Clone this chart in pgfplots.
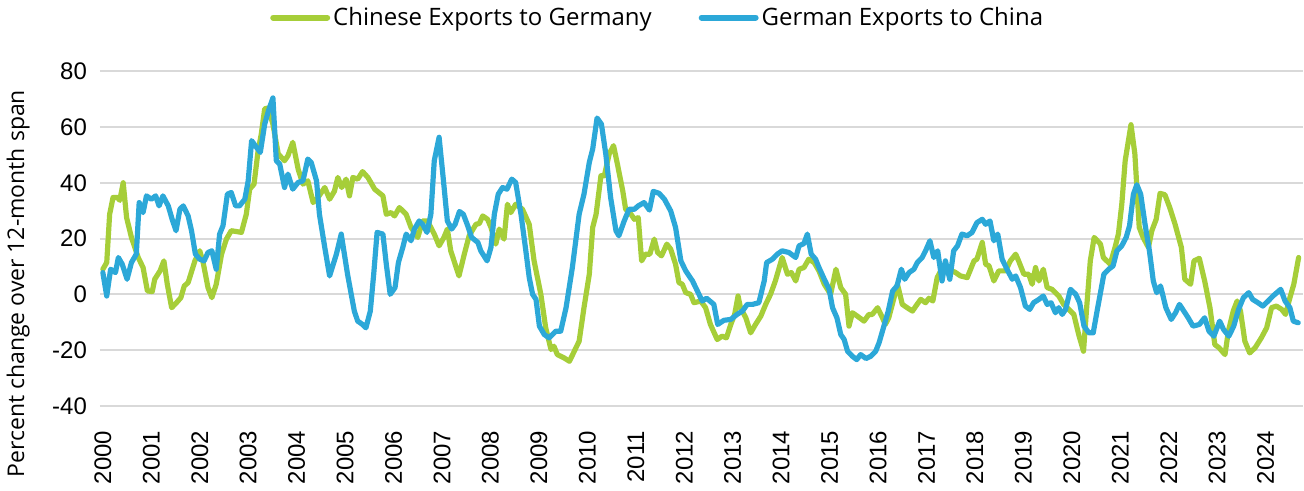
\documentclass[border=0pt]{standalone}
\usepackage{fontspec}
\setmainfont{Open Sans}
\newfontfamily\tickfont{Liberation Sans}
\usepackage{pgfplots}
\pgfplotsset{compat=1.18}
\definecolor{cngreen}{RGB}{166,206,57}
\definecolor{deblue}{RGB}{44,168,216}
\definecolor{gridgray}{RGB}{217,217,217}

\begin{document}
\begin{tikzpicture}
\begin{axis}[
    scale only axis,
    width=602pt, height=167.5pt,
    xmin=1999.94, xmax=2024.77,
    ymin=-40, ymax=80,
    ytick={-40,-20,0,20,40,60,80},
    xtick={2000,2001,...,2024},
    xticklabel style={rotate=90, anchor=east, font=\tickfont\fontsize{12}{13}\selectfont},
    xticklabel shift=9pt,
    yticklabel style={font=\tickfont\fontsize{12}{13}\selectfont},
    yticklabel shift=3pt,
    /pgf/number format/assume math mode=true,
    /pgf/number format/1000 sep={},
    axis line style={draw=none},
    major tick length=0pt,
    xtick pos=bottom,
    ymajorgrids,
    grid style={gridgray, line width=1pt},
    ylabel={Percent change over 12-month span},
    ylabel style={font=\fontsize{11.5}{13}\selectfont, at={(axis description cs:-0.068,0.365)}, anchor=center},
    legend columns=2,
    legend style={draw=none, at={(axis description cs:0.464,1.16)}, anchor=center,
        font=\fontsize{12}{13}\selectfont, /tikz/every even column/.append style={column sep=22pt},
        nodes={inner sep=1.5pt}},
    legend image code/.code={\draw[#1, line width=3pt] (0pt,0pt) -- (27pt,0pt);},
    every axis plot/.append style={line width=2.6pt, line join=round, line cap=round},
]
\addplot[cngreen] coordinates {
(2000.00,9)(2000.08,11.4)(2000.14,28.7)(2000.21,34.7)(2000.30,34.7)(2000.35,33.7)(2000.42,40)(2000.49,27.5)(2000.59,20.4)(2000.73,13.2)(2000.83,9.6)(2000.92,1.2)(2001.02,1)(2001.07,5.4)(2001.18,8.4)(2001.26,12)(2001.33,3.6)(2001.42,-4.8)(2001.52,-3)(2001.61,-1.2)(2001.68,3)(2001.76,4.2)(2001.90,12)(2002.00,15.6)(2002.07,11.4)(2002.17,2.4)(2002.25,-1.2)(2002.34,3.6)(2002.45,14.4)(2002.55,19.8)(2002.65,22.8)(2002.76,22.5)(2002.86,22.2)(2002.96,28.7)(2003.03,37.7)(2003.12,39.5)(2003.20,50.9)(2003.27,57.5)(2003.34,66.5)(2003.41,66.8)(2003.51,61)(2003.62,50.3)(2003.75,47.9)(2003.82,49.7)(2003.92,54.5)(2004.03,44.9)(2004.13,39.5)(2004.23,40.7)(2004.34,32.9)(2004.44,34.7)(2004.58,38.3)(2004.68,34.1)(2004.78,37)(2004.85,41.9)(2004.93,38.3)(2005.02,41.3)(2005.09,35.3)(2005.16,41.9)(2005.26,41.3)(2005.36,44)(2005.47,41.9)(2005.61,37.7)(2005.78,35.3)(2005.85,28.7)(2005.95,29.3)(2006.02,28.1)(2006.12,31.1)(2006.26,28.7)(2006.36,24)(2006.50,20.4)(2006.60,26.3)(2006.70,26.3)(2006.84,21.6)(2006.94,17.4)(2007.04,20.4)(2007.11,23.4)(2007.18,15.6)(2007.35,6.6)(2007.46,14.4)(2007.56,21)(2007.70,25.1)(2007.77,25.4)(2007.84,28.1)(2007.94,26.9)(2008.01,24)(2008.11,18)(2008.18,23.4)(2008.28,19.8)(2008.35,32.3)(2008.42,29.3)(2008.52,32.3)(2008.66,30.5)(2008.80,25.1)(2008.90,12)(2009.04,0)(2009.14,-12)(2009.25,-19.8)(2009.31,-18.6)(2009.38,-21.6)(2009.52,-22.8)(2009.63,-24)(2009.73,-20.4)(2009.83,-16.8)(2009.93,-4.8)(2010.04,7.2)(2010.11,24)(2010.18,28.7)(2010.28,42.5)(2010.35,42.5)(2010.45,50.3)(2010.54,53.3)(2010.62,46.7)(2010.73,37.1)(2010.79,30.5)(2010.90,28.7)(2010.97,26.9)(2011.05,27.5)(2011.12,12)(2011.20,14.4)(2011.29,14.4)(2011.38,19.8)(2011.45,15)(2011.53,13.8)(2011.64,18)(2011.72,16.2)(2011.82,10.8)(2011.89,4.2)(2011.96,3.6)(2012.03,0.6)(2012.13,0)(2012.20,-3)(2012.34,-2.4)(2012.44,-4.8)(2012.54,-10.8)(2012.68,-16.2)(2012.78,-15)(2012.87,-15.6)(2012.96,-10.8)(2013.04,-7.2)(2013.11,-0.6)(2013.16,-4.8)(2013.27,-8.4)(2013.37,-13.8)(2013.47,-10.8)(2013.58,-7.8)(2013.68,-3.6)(2013.78,0)(2013.88,4.8)(2014.02,13.2)(2014.13,7.2)(2014.21,7.8)(2014.30,4.8)(2014.37,9)(2014.47,9.6)(2014.57,12.6)(2014.68,11.4)(2014.78,8.4)(2014.89,3.6)(2015.02,0)(2015.13,9)(2015.23,2.4)(2015.33,0)(2015.40,-11.4)(2015.47,-6.6)(2015.57,-7.8)(2015.71,-9.6)(2015.81,-7.2)(2015.88,-7.2)(2015.99,-4.8)(2016.09,-8.4)(2016.15,-10.8)(2016.22,-8.4)(2016.33,-1.2)(2016.40,3.6)(2016.50,-3.6)(2016.60,-4.8)(2016.71,-6)(2016.78,-4.2)(2016.88,-1.8)(2016.98,-3)(2017.05,-1.4)(2017.13,-2.4)(2017.22,6)(2017.33,9.6)(2017.46,9)(2017.60,7.8)(2017.70,6.6)(2017.84,6)(2017.98,12)(2018.04,12.6)(2018.15,18.6)(2018.22,10.8)(2018.29,10.2)(2018.39,4.8)(2018.49,8.4)(2018.63,8.4)(2018.73,12)(2018.84,14.4)(2018.90,12)(2019.01,7.2)(2019.11,7.2)(2019.18,3.6)(2019.25,9.6)(2019.32,4.8)(2019.41,9)(2019.49,2.4)(2019.59,1.8)(2019.73,-0.6)(2019.83,-3.6)(2019.90,-4.8)(2020.04,-7.2)(2020.14,-14.4)(2020.24,-20.4)(2020.31,-3.6)(2020.38,12)(2020.46,20.4)(2020.59,18)(2020.65,13.2)(2020.79,10.8)(2020.89,16.8)(2020.96,21.6)(2021.03,32.3)(2021.10,47.9)(2021.22,60.8)(2021.30,50.3)(2021.39,24)(2021.47,20.4)(2021.58,16.8)(2021.65,22.8)(2021.74,26.9)(2021.82,36.2)(2021.92,35.7)(2022.02,31.1)(2022.13,25.1)(2022.26,16.8)(2022.33,5.4)(2022.45,3.6)(2022.52,12)(2022.63,12.9)(2022.74,4.8)(2022.85,-4.8)(2022.95,-18)(2023.04,-19.2)(2023.16,-21.6)(2023.23,-13.2)(2023.33,-6)(2023.41,-2.4)(2023.48,-6)(2023.57,-16.8)(2023.67,-21)(2023.78,-19.2)(2023.91,-15.6)(2024.02,-12)(2024.12,-4.8)(2024.22,-4.2)(2024.33,-5.4)(2024.41,-7.2)(2024.50,-1.2)(2024.58,3.6)(2024.68,13.2)
};
\addlegendentry{Chinese Exports to Germany}
\addplot[deblue] coordinates {
(2000.00,7.8)(2000.08,-0.6)(2000.16,9)(2000.26,7.8)(2000.32,13.2)(2000.40,10.8)(2000.50,5.4)(2000.59,11.4)(2000.69,14.4)(2000.75,32.9)(2000.83,29.3)(2000.90,35.3)(2001.00,34.1)(2001.09,35.3)(2001.16,31.7)(2001.24,35.3)(2001.35,31.7)(2001.43,26.9)(2001.51,22.8)(2001.59,30.5)(2001.66,31.7)(2001.76,28.1)(2001.83,22.8)(2001.91,14.4)(2002.00,12.6)(2002.09,12)(2002.17,15)(2002.25,15.6)(2002.34,9)(2002.41,21.6)(2002.48,24.6)(2002.57,35.9)(2002.65,36.5)(2002.74,31.7)(2002.82,31.7)(2002.93,34.1)(2003.00,40.7)(2003.07,55.1)(2003.17,52.7)(2003.25,50.9)(2003.34,61)(2003.42,65.9)(2003.51,70.4)(2003.58,47.9)(2003.65,46.7)(2003.75,38.3)(2003.82,43.1)(2003.92,37.7)(2004.03,40.1)(2004.13,40.7)(2004.23,48.5)(2004.30,47.3)(2004.41,40.7)(2004.47,28.7)(2004.58,16.8)(2004.68,6.6)(2004.82,14.4)(2004.92,21.6)(2005.05,7.2)(2005.19,-6)(2005.26,-9.6)(2005.36,-10.8)(2005.43,-12)(2005.52,-6)(2005.59,7.2)(2005.66,22.2)(2005.78,21.6)(2005.85,10.8)(2005.93,0)(2006.03,2.4)(2006.10,11.4)(2006.19,16.8)(2006.26,21.6)(2006.36,19.2)(2006.43,23.4)(2006.53,26.3)(2006.60,25.1)(2006.69,22.2)(2006.77,28.7)(2006.84,47.9)(2006.94,56.3)(2007.03,40.7)(2007.11,26.3)(2007.20,23.4)(2007.27,25.1)(2007.36,29.7)(2007.44,28.7)(2007.53,24.6)(2007.61,20.4)(2007.74,18.6)(2007.80,15.6)(2007.93,12)(2008.01,16.8)(2008.08,28.7)(2008.16,35.9)(2008.25,38.3)(2008.34,37.7)(2008.44,41.3)(2008.52,40.1)(2008.63,28.7)(2008.73,15.6)(2008.80,6)(2008.87,0)(2008.94,-1.8)(2009.01,-11.4)(2009.11,-14.4)(2009.21,-15.6)(2009.35,-13.2)(2009.45,-13.2)(2009.56,-4.8)(2009.69,9.6)(2009.83,28.7)(2009.93,35.9)(2010.04,47.3)(2010.11,52.1)(2010.20,63.2)(2010.29,61)(2010.38,50.3)(2010.48,34.7)(2010.59,22.8)(2010.65,21)(2010.76,26.3)(2010.86,30.5)(2010.97,30.5)(2011.05,31.7)(2011.17,32.9)(2011.28,30.2)(2011.36,36.9)(2011.48,36.2)(2011.59,34.1)(2011.72,29.9)(2011.82,24)(2011.93,12)(2012.03,8.4)(2012.17,4.8)(2012.27,1.2)(2012.37,-2.4)(2012.46,-1.4)(2012.61,-3.6)(2012.69,-10.8)(2012.82,-9.3)(2012.96,-9)(2013.09,-7.2)(2013.20,-6)(2013.30,-3.6)(2013.41,-3.6)(2013.54,-3)(2013.65,4.8)(2013.70,11.4)(2013.82,12.6)(2013.92,14.4)(2014.02,15.6)(2014.16,15)(2014.30,13.2)(2014.37,17.4)(2014.47,18.2)(2014.54,21.6)(2014.62,14.4)(2014.71,12.6)(2014.78,9.6)(2014.89,5.4)(2014.99,1.8)(2015.06,-4.8)(2015.15,-8.4)(2015.23,-14.4)(2015.30,-16.2)(2015.37,-20.4)(2015.47,-22.2)(2015.56,-23.4)(2015.64,-21.6)(2015.75,-23)(2015.85,-22.2)(2015.95,-20.4)(2016.02,-17.4)(2016.13,-10.8)(2016.21,-6)(2016.30,1.2)(2016.39,3)(2016.48,9)(2016.55,5.4)(2016.64,7.8)(2016.74,9)(2016.81,11.4)(2016.91,13.2)(2016.98,15.6)(2017.07,19.2)(2017.15,13.2)(2017.23,15.6)(2017.32,4.8)(2017.39,12)(2017.48,5.4)(2017.56,15.6)(2017.64,17.4)(2017.73,21.6)(2017.84,21)(2017.94,22.2)(2018.04,25.7)(2018.15,26.9)(2018.22,25.1)(2018.31,26.3)(2018.39,19.2)(2018.47,21.6)(2018.56,12.6)(2018.66,9)(2018.77,5.4)(2018.84,6.6)(2018.94,2.4)(2019.04,-4.2)(2019.13,-5.4)(2019.21,-3)(2019.32,-1.8)(2019.41,-0.6)(2019.49,-3.6)(2019.57,-3)(2019.66,-6.6)(2019.73,-4.8)(2019.80,-7.2)(2019.87,-5.4)(2019.97,1.8)(2020.08,0)(2020.16,-3)(2020.25,-11.4)(2020.35,-13.8)(2020.44,-13.8)(2020.52,-6)(2020.59,0.6)(2020.66,7.2)(2020.76,9)(2020.85,10.2)(2020.93,15.6)(2021.03,17.4)(2021.12,20.4)(2021.19,24.6)(2021.27,35.9)(2021.34,39.3)(2021.42,35.9)(2021.51,25.1)(2021.60,15.6)(2021.68,4.8)(2021.75,0.6)(2021.83,3)(2021.94,-4.8)(2022.05,-9)(2022.14,-6.6)(2022.22,-3.6)(2022.31,-6)(2022.40,-8.4)(2022.50,-11.4)(2022.63,-10.8)(2022.74,-8.4)(2022.83,-13.2)(2022.93,-15)(2023.05,-9.6)(2023.13,-12.6)(2023.24,-15)(2023.34,-11.4)(2023.44,-5.4)(2023.54,-1.2)(2023.65,0.6)(2023.73,-1.8)(2023.84,-3)(2023.94,-4.2)(2024.05,-2.4)(2024.15,-0.6)(2024.23,0.6)(2024.31,1.8)(2024.40,-2.4)(2024.50,-4.8)(2024.57,-9.6)(2024.67,-10.2)
};
\addlegendentry{German Exports to China}
\end{axis}
\end{tikzpicture}
\end{document}
